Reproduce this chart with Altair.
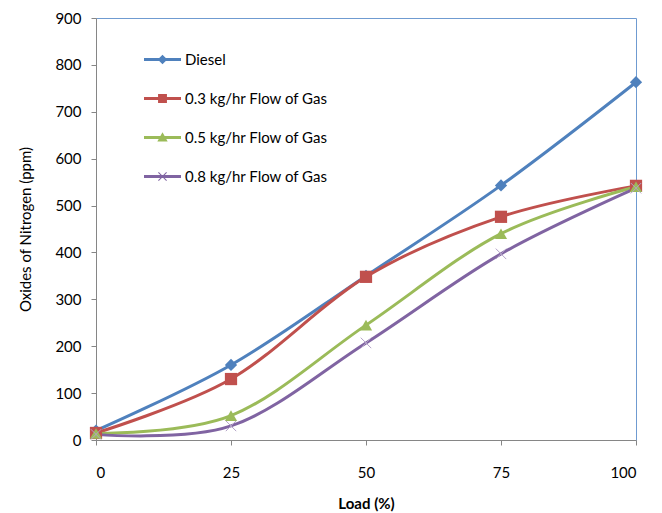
import altair as alt
import pandas as pd

loads = [0, 25, 50, 75, 100]
series = ["Diesel", "0.3 kg/hr Flow of Gas", "0.5 kg/hr Flow of Gas", "0.8 kg/hr Flow of Gas"]
diesel = [20, 160, 350, 543, 763]
gas03 = [15, 130, 348, 476, 542]
gas05 = [14, 52, 245, 440, 540]
gas08 = [12, 30, 207, 397, 537]
colors = ["#4F81BD", "#C0504D", "#9BBB59", "#8064A2"]

rows = []
for name, vals in zip(series, [diesel, gas03, gas05, gas08]):
    for x, v in zip(loads, vals):
        rows.append({"load": x, "nox": v, "series": name})
df = pd.DataFrame(rows)

FONT = "Lato"
xenc = alt.X("load:Q", scale=alt.Scale(domain=[0, 100], nice=False),
             axis=alt.Axis(values=loads, title="Load (%)", grid=False,
                           labelPadding=20, titlePadding=16, titleFontSize=15))
yenc = alt.Y("nox:Q", scale=alt.Scale(domain=[0, 900], nice=False),
             axis=alt.Axis(values=list(range(0, 901, 100)), title="Oxides of Nitrogen (ppm)",
                           grid=False, labelPadding=10, titlePadding=21,
                           titleFontWeight="normal"))
cscale = alt.Scale(domain=series, range=colors)

lines = alt.Chart(df).mark_line(interpolate="cardinal", strokeWidth=3).encode(
    x=xenc, y=yenc,
    color=alt.Color("series:N", scale=cscale, legend=None),
    detail="series:N",
)

main_pts = alt.Chart(df).transform_filter(
    alt.datum.series != "0.8 kg/hr Flow of Gas"
).mark_point(filled=True, opacity=1, size=150).encode(
    x=xenc, y=yenc,
    color=alt.Color("series:N", scale=cscale, legend=None),
    shape=alt.Shape("series:N", scale=alt.Scale(domain=series[:3], range=["diamond", "square", "triangle-up"]), legend=None),
)

x_pts = alt.Chart(df).transform_filter(
    alt.datum.series == "0.8 kg/hr Flow of Gas"
).mark_point(filled=False, shape="M-1,-1L1,1M1,-1L-1,1", size=110, strokeWidth=1,
             color="#B3A2C7", opacity=1).encode(x=xenc, y=yenc)

leg_paths = [
    "M-1,-0.08H1V0.08H-1Z M0,-0.26L0.26,0L0,0.26L-0.26,0Z",
    "M-1,-0.08H1V0.08H-1Z M-0.24,-0.24H0.24V0.24H-0.24Z",
    "M-1,-0.08H1V0.08H-1Z M0,-0.28L0.28,0.22H-0.28Z",
    "M-1,-0.08H1V0.08H-1Z M-0.24,-0.2L-0.2,-0.24L0.24,0.2L0.2,0.24Z M0.2,-0.24L0.24,-0.2L-0.2,0.24L-0.24,0.2Z",
]
legend_layer = alt.Chart(df).mark_point(filled=True, opacity=0, size=1369).encode(
    x=xenc, y=yenc,
    color=alt.Color("series:N", scale=cscale, title=None),
    shape=alt.Shape("series:N", scale=alt.Scale(domain=series, range=leg_paths),
                    title=None,
                    legend=alt.Legend(orient="none", legendX=48, legendY=23,
                                      symbolOpacity=1, symbolStrokeWidth=0,
                                      labelFont=FONT, labelFontSize=15, labelColor="#000000",
                                      labelOffset=4, rowPadding=12, symbolSize=1369,
                                      labelLimit=300)),
)

chart = alt.layer(lines, main_pts, x_pts, legend_layer).resolve_scale(
    shape="independent", color="independent"
).properties(
    width=540, height=422,
    autosize=alt.AutoSizeParams(type="none"),
    padding={"left": 96, "top": 18, "right": 26, "bottom": 73},
).configure_view(
    stroke="#6F9BD1", strokeWidth=1
).configure_axis(
    domainColor="#868686", tickColor="#868686", tickSize=5,
    labelFont=FONT, labelFontSize=15, labelColor="#000000",
    titleFont=FONT, titleFontSize=15, titleFontWeight="bold", titleColor="#000000",
)

chart.save("out.html", embed_options={"renderer": "svg", "actions": False})
